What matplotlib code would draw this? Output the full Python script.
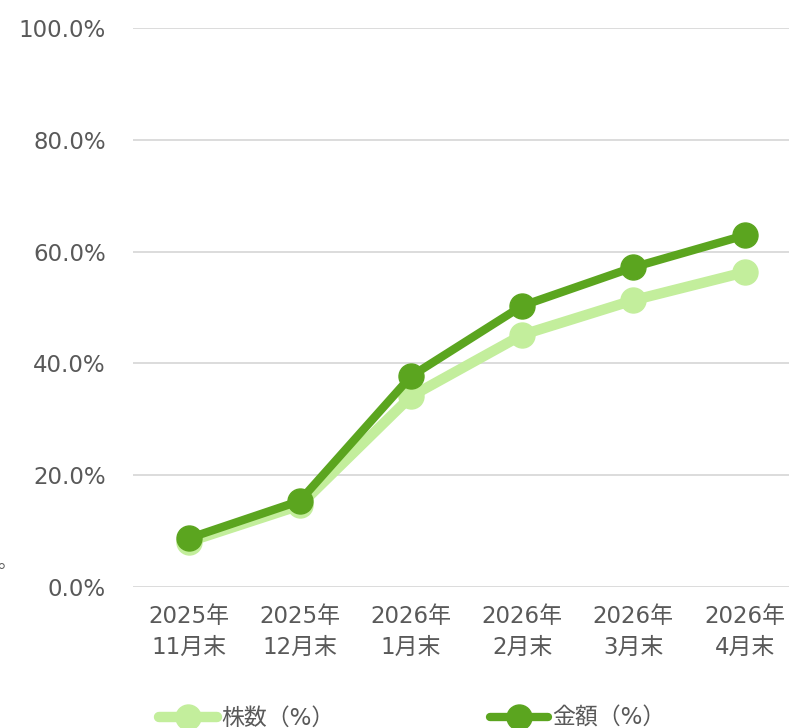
import numpy as np
import matplotlib.pyplot as plt

plt.rcParams['font.family'] = ['DejaVu Sans', 'Noto Sans CJK JP']

months = ['2025年\n11月末', '2025年\n12月末', '2026年\n1月末',
          '2026年\n2月末', '2026年\n3月末', '2026年\n4月末']
shares = [8.1, 14.6, 34.1, 45.1, 51.3, 56.3]   # 株数（%）
amount = [8.7, 15.4, 37.7, 50.3, 57.2, 62.9]   # 金額（%）

light = '#c3ee9c'
dark = '#5ba51f'
gray = '#595959'

fig = plt.figure(figsize=(7.89, 7.28), dpi=100)
ax = fig.add_axes([0.1686, 0.1937, 0.8314, 0.7678])

x = np.arange(len(months))
ax.plot(x, shares, color=light, lw=7.5, marker='o', ms=18,
        solid_capstyle='round', label='株数（%）', zorder=3)
ax.plot(x, amount, color=dark, lw=6, marker='o', ms=18,
        solid_capstyle='round', label='金額（%）', zorder=4)

ax.set_ylim(0, 100)
ax.set_xlim(-0.5, 5.4)
ax.set_yticks(np.arange(0, 101, 20))
ax.set_yticklabels(['%.1f%%' % v for v in np.arange(0, 101, 20)])
ax.set_xticks(x)
ax.set_xticklabels(months, linespacing=1.45)
ax.grid(axis='y', color='#d9d9d9', lw=1.3)
ax.set_axisbelow(True)
for s in ax.spines.values():
    s.set_visible(False)
ax.tick_params(length=0, labelsize=16.5, colors=gray)
ax.tick_params(axis='x', pad=13)
ax.tick_params(axis='y', pad=19.5)

fig.text(-0.004, 0.228, '。', fontsize=14, color=gray, ha='left', va='center')

leg = fig.legend(loc='center left', bbox_to_anchor=(0.176, 0.013), ncol=2,
                 frameon=False, fontsize=16.5, handlelength=2.5, handletextpad=0.2,
                 columnspacing=6.8, labelcolor=gray)

fig.savefig('out.png', dpi=100)
